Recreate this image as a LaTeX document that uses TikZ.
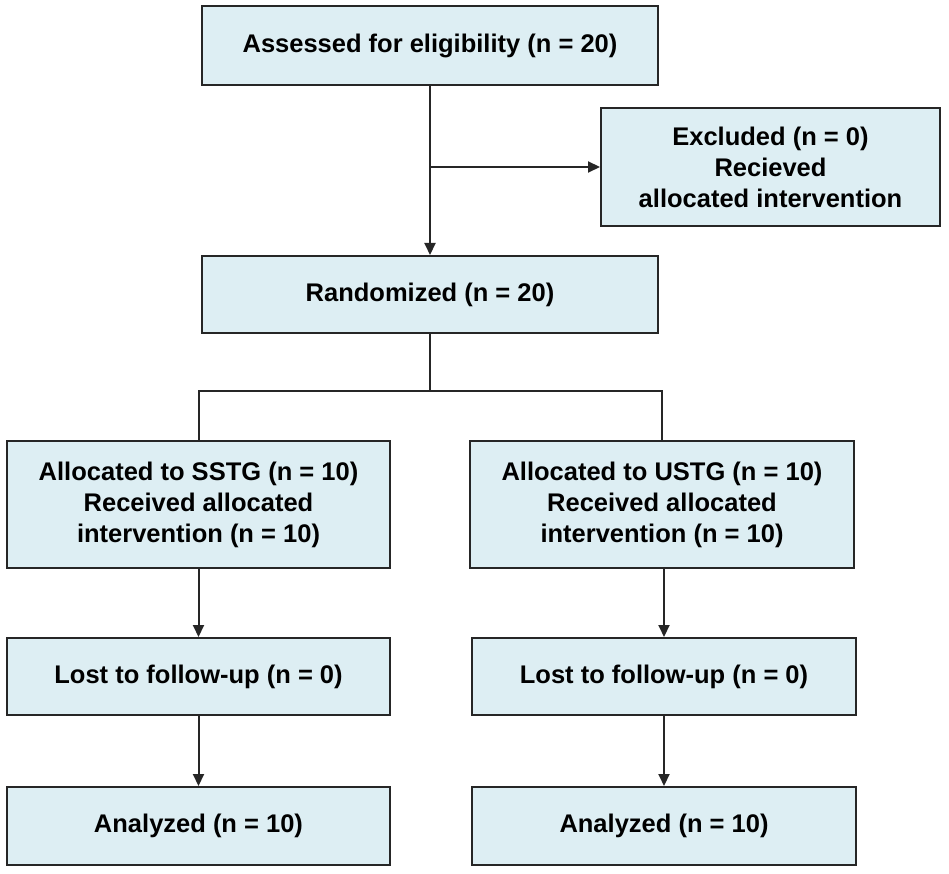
\documentclass[tikz,border=0pt]{standalone}
\usepackage{fontspec}
\setmainfont{Liberation Sans}
\usetikzlibrary{arrows.meta}
\begin{document}
\begin{tikzpicture}[x=1pt,y=-1pt,
 box/.style={draw=black!85,line width=2pt,fill=boxc,align=center,font=\fontsize{25.5}{31}\selectfont\bfseries,inner sep=0pt},
 conn/.style={line width=2pt,draw=black!85},
 arr/.style={conn,-{Triangle[length=12pt,width=11pt]}}]
\definecolor{boxc}{HTML}{DDEEF3}
\useasboundingbox (0,0) rectangle (949,874);
\node[box,minimum width=456pt,minimum height=79pt] (a) at (430,46) {Assessed for eligibility (n = 20)};
\node[box,minimum width=339pt,minimum height=118pt] (e) at (770.5,167) {Excluded (n = 0)\\Recieved\\allocated intervention};
\node[box,minimum width=456pt,minimum height=77pt] (r) at (430,294.5) {Randomized (n = 20)};
\node[box,minimum width=383pt,minimum height=127pt] (s) at (198.5,504.5) {Allocated to SSTG (n = 10)\\Received allocated\\intervention (n = 10)};
\node[box,minimum width=384pt,minimum height=127pt] (u) at (662,504.5) {Allocated to USTG (n = 10)\\Received allocated\\intervention (n = 10)};
\node[box,minimum width=383pt,minimum height=77pt] (l1) at (198.5,676.5) {Lost to follow-up (n = 0)};
\node[box,minimum width=384pt,minimum height=77pt] (l2) at (664,676.5) {Lost to follow-up (n = 0)};
\node[box,minimum width=383pt,minimum height=78pt] (n1) at (198.5,826) {Analyzed (n = 10)};
\node[box,minimum width=384pt,minimum height=78pt] (n2) at (664,826) {Analyzed (n = 10)};
\coordinate (j) at (430,167);
\coordinate (k) at (430,391);
\draw[arr] (a.south) -- (r.north);
\draw[arr] (j) -- (e.west);
\draw[conn] (r.south) -- (k);
\draw[conn] (s.north) |- (k) -| (u.north);
\draw[arr] (s.south) -- (l1.north -| s.south);
\draw[arr] (l1.south) -- (n1.north);
\draw[arr] (l2.north |- u.south) -- (l2.north);
\draw[arr] (l2.south) -- (n2.north);
\end{tikzpicture}
\end{document}
